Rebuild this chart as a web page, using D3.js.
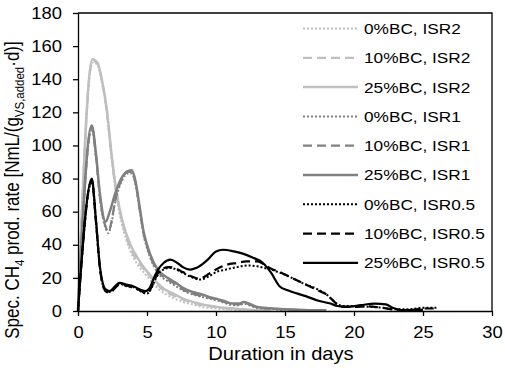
<!DOCTYPE html>
<html>
<head>
<meta charset="utf-8">
<script src="https://cdn.jsdelivr.net/npm/d3@7"></script>
<style>
  body { margin: 0; background: #fff; }
  text { font-family: "Liberation Sans", Arial, sans-serif; fill: #000; }
</style>
</head>
<body>
<svg id="grafico"></svg>
<script>
const WIDTH = 505,
    HEIGHT = 370;

const margin = { top: 13, right: 13, bottom: 59, left: 78 };

// the original picture is a bit wider than tall, text looks stretched
const STRETCH = 1.15;

const xTicks = [0, 5, 10, 15, 20, 25, 30];
const yTicks = [0, 20, 40, 60, 80, 100, 120, 140, 160, 180];

const legendLabels = [
    "0%BC, ISR2", "10%BC, ISR2", "25%BC, ISR2",
    "0%BC, ISR1", "10%BC, ISR1", "25%BC, ISR1",
    "0%BC, ISR0.5", "10%BC, ISR0.5", "25%BC, ISR0.5"
];

// [day, NmL/(gVS,added*d)]
const isr2bc0 = [[0,0],[1.05,150],[1.4,149],[1.75,137],[2.1,119],[2.35,99],[2.6,81],[2.85,66],[3.2,52],[3.8,36],[4.4,27],[4.8,23],[5.3,18],[5.8,13.5],[6.3,10.5],[7,7.5],[7.6,5.5],[8.3,4],[9,2.5],[10,1.5],[11,0.8],[12,0.5],[13,0.3]];
const isr2bc10 = [[0,0],[1.05,151],[1.4,150],[1.75,138],[2.1,120],[2.35,100],[2.6,82],[2.85,68],[3.2,54],[3.8,38],[4.4,29],[4.8,25],[5.3,20],[5.8,15.5],[6.3,12],[7,9],[7.6,7],[8.3,5],[9,3.5],[10,2.3],[11,1.3],[12,0.8],[13,0.4],[14,0.2]];
const isr2bc25 = [[0,0],[1.05,152],[1.4,150],[1.75,139],[2.1,121],[2.35,101],[2.6,83],[2.85,69],[3.2,55],[3.8,40],[4.4,31],[4.8,26],[5.3,21],[5.8,16.5],[6.3,13],[7,10],[7.6,7.5],[8.3,5.5],[9,4],[10,2.6],[11,1.6],[12,1],[13,0.5],[14,0.3]];

const isr1bc0 = [[0,0],[1,110],[1.3,93],[1.6,67],[2,50],[2.2,47],[2.4,52],[2.7,66],[3.2,79],[3.6,83],[3.9,83],[4.15,77],[4.5,59],[4.75,46],[5,38],[5.5,27],[6,21],[6.5,18],[7,15.5],[7.6,12.5],[8.3,10],[9,8.5],[9.5,7.5],[10,6.5],[10.6,5],[11.2,3.5],[11.7,3.5],[12,4.5],[12.4,3.5],[12.9,2],[13.9,1.2],[15,0.6],[16,0.5],[17,0.3]];
const isr1bc10 = [[0,0],[1,111],[1.3,94],[1.6,68],[2,51],[2.2,48],[2.4,53],[2.7,67],[3.2,80],[3.6,84],[3.9,84],[4.15,78],[4.5,60],[4.75,47],[5,39],[5.5,28],[6,22],[6.5,19],[7,16.5],[7.6,13],[8.3,10.5],[9,9],[9.5,8],[10,7],[10.6,5.5],[11.2,4],[11.7,4],[12,5],[12.4,4],[12.9,2.3],[13.9,1.4],[15,0.8],[16,0.6],[17,0.4],[18,0.4]];
const isr1bc25 = [[0,0],[1,112],[1.3,95],[1.6,70],[2,54],[2.3,60],[2.7,71],[3.2,81],[3.6,84.5],[3.9,85],[4.15,79],[4.5,61],[4.75,48],[5,40],[5.5,29],[6,23],[6.5,20],[7,17.5],[7.6,14],[8.3,11.5],[9,10],[9.5,8.5],[10,7.5],[10.6,6],[11.2,4.5],[11.7,4.5],[12,5.5],[12.4,4.5],[12.9,2.6],[13.9,1.6],[15,1],[16,0.8],[17,0.5],[18,0.5]];

const isr05bc0 = [[0,0],[1,78],[1.3,54],[1.6,25],[2,12],[2.3,11.5],[2.7,14.5],[3,16.5],[3.5,15],[4,14.5],[4.5,12],[5,10.5],[5.3,13.5],[5.6,19],[6,24],[6.6,26],[7,25.5],[7.6,23],[8.2,20.5],[8.8,19],[9.5,21],[10,23.5],[10.7,25],[11.5,26.5],[12.3,27.5],[13,27],[13.5,26],[14,25],[14.5,23.5],[15,22],[15.5,20],[16,18],[16.5,16],[17,14.5],[17.5,12.5],[18,10],[18.4,7],[18.8,4],[19.3,3],[20,3],[21,2.5],[22,2],[23,1],[24,1],[25,2],[26,2]];
const isr05bc10 = [[0,0],[1,79],[1.3,54],[1.6,25],[2,12],[2.3,11],[2.7,14],[3,16],[3.5,15.5],[4,14],[4.5,12.5],[5,10.5],[5.3,14],[5.6,20],[6,25],[6.6,26.5],[7,26],[7.6,23.5],[8.2,21],[8.8,19.5],[9.5,22.5],[10.2,26],[10.8,28],[11.5,29],[12.2,30],[13,30],[13.5,28],[14,25.5],[14.5,24],[15,22],[15.5,20],[16,18],[16.5,16],[17,14],[17.5,12],[18,10],[18.4,7],[18.8,4],[19.3,2.5],[20,2.5],[21,2.8],[22,2],[23,0.8],[24,0.5],[25,1.5],[26,1.5]];
const isr05bc25 = [[0,0],[1,80],[1.3,55],[1.6,26],[2,13],[2.3,12],[2.7,15],[3,17],[3.5,16],[4,15],[4.5,13],[4.9,12],[5.2,14],[5.5,20],[5.8,25],[6.2,29],[6.7,31],[7.2,29],[7.6,26.5],[8.1,25],[8.8,27],[9.4,31],[10,36],[10.5,37],[11.3,36],[12,34.5],[12.6,32.5],[13.4,29],[14,23],[14.6,15],[15.2,12.5],[15.9,10.5],[16.5,9],[17.5,6],[18.3,4.5],[18.8,3],[19.5,2.5],[20.5,3.5],[21.5,4.5],[22.3,4],[22.8,2],[23.5,0.5],[24.5,0.5],[25,0.8]];

const seriesData = [isr2bc0, isr2bc10, isr2bc25, isr1bc0, isr1bc10, isr1bc25, isr05bc0, isr05bc10, isr05bc25];

const colores = ["#bfbfbf", "#bfbfbf", "#bfbfbf", "#808080", "#808080", "#808080", "#000", "#000", "#000"];
const trazos = ["2,2", "9,5", null, "2,2", "9,5", null, "2,2", "9,5", null];
const grosores = [2, 2.2, 2.5, 2, 2.2, 2.5, 2, 2.2, 2.2];

const svg = d3.select("#grafico")
    .attr("width", WIDTH)
    .attr("height", HEIGHT);

const x = d3.scaleLinear()
    .domain([0, 30])
    .range([margin.left, WIDTH - margin.right]);

const y = d3.scaleLinear()
    .domain([0, 180])
    .range([HEIGHT - margin.bottom, margin.top]);

// frame (top and right)
svg.append("path")
    .attr("d", `M${x(0)},${y(180)}H${x(30)}V${y(0)}`)
    .attr("fill", "none")
    .attr("stroke", "#000")
    .attr("stroke-width", 1.3);

const linea = d3.line()
    .x(d => x(d[0]))
    .y(d => y(d[1]))
    .curve(d3.curveMonotoneX);

svg.append("g")
    .selectAll("path")
    .data(seriesData)
    .join("path")
    .attr("d", linea)
    .attr("fill", "none")
    .attr("stroke", (d, i) => colores[i])
    .attr("stroke-width", (d, i) => grosores[i])
    .attr("stroke-dasharray", (d, i) => trazos[i])
    .attr("stroke-linejoin", "round");

const ejeX = svg.append("g")
    .attr("transform", `translate(0 ${y(0)})`)
    .call(d3.axisBottom(x).tickValues(xTicks).tickSize(5).tickPadding(11).tickSizeOuter(0));

const ejeY = svg.append("g")
    .attr("transform", `translate(${x(0)} 0)`)
    .call(d3.axisLeft(y).tickValues(yTicks).tickSize(5).tickPadding(9).tickSizeOuter(0));

[ejeX, ejeY].forEach(eje => {
    eje.select(".domain").attr("stroke-width", 1.3);
    eje.selectAll(".tick line").attr("stroke-width", 1.3);
    eje.selectAll("text")
        .attr("font-family", null)
        .style("font-size", "16px")
        .attr("transform", `scale(${STRETCH},1)`);
});

// x title
svg.append("text")
    .attr("transform", `translate(281 360) scale(${STRETCH},1)`)
    .attr("text-anchor", "middle")
    .style("font-size", "17.5px")
    .text("Duration in days");

// y title with subscripts
const tituloY = svg.append("text")
    .attr("transform", `translate(19 190) scale(${STRETCH},1) rotate(-90)`)
    .attr("text-anchor", "middle")
    .style("font-size", "17px");
tituloY.append("tspan").text("Spec. CH");
tituloY.append("tspan").attr("dy", 4).style("font-size", "11.5px").text("4");
tituloY.append("tspan").attr("dy", -4).text(" prod. rate [NmL/(g");
tituloY.append("tspan").attr("dy", 4).style("font-size", "11.5px").text("VS,added");
tituloY.append("tspan").attr("dy", -4).text("·d)]");

// legend
const leyenda = svg.append("g")
    .selectAll("g")
    .data(legendLabels)
    .join("g")
    .attr("transform", (d, i) => `translate(303 ${28.5 + i * 29.3})`);

leyenda.append("line")
    .attr("x1", 0)
    .attr("x2", 55)
    .attr("stroke", (d, i) => colores[i])
    .attr("stroke-width", (d, i) => grosores[i])
    .attr("stroke-dasharray", (d, i) => trazos[i]);

leyenda.append("text")
    .attr("transform", `translate(61 0) scale(${STRETCH},1)`)
    .attr("dy", "0.36em")
    .style("font-size", "15px")
    .text(d => d);
</script>
</body>
</html>
